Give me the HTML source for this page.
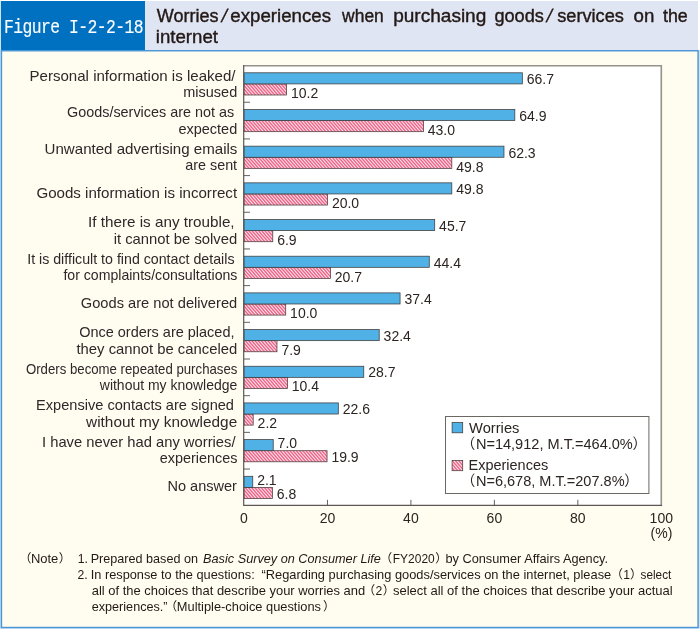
<!DOCTYPE html>
<html lang="en"><head><meta charset="utf-8"><title>Figure I-2-2-18</title>
<style>
html,body{margin:0;padding:0;background:#fff;}
body{width:700px;height:629px;position:relative;overflow:hidden;font-family:"Liberation Sans","Noto Sans CJK JP",sans-serif;color:#231815;}
.tag{position:absolute;left:0.8px;top:0.8px;width:144.6px;height:49.8px;background:#0070c0;}
.tag span{position:absolute;left:3.2px;top:17.1px;white-space:pre;color:#fff;font-family:"Liberation Mono",monospace;font-size:16.4px;line-height:20px;letter-spacing:-0.56px;transform:scaleY(1.28);transform-origin:0 50%;-webkit-text-stroke:0.12px #fff;}
.ttl{position:absolute;left:145.4px;top:0.9px;width:553.0px;height:49.4px;background:#dfe5f3;}
svg{position:absolute;left:0;top:0;}
text{font-family:"Liberation Sans","Noto Sans CJK JP",sans-serif;fill:#231815;white-space:pre;}
.w{font-size:18.7px;stroke:#231815;stroke-width:0.4px;}
.ws{font-size:18.4px;stroke:#231815;stroke-width:0.3px;}
.lab{font-size:14.8px;fill:#30272a;}
.val{font-size:14px;fill:#2c2421;}
.leg{font-size:14.3px;fill:#2c2421;}
.n{font-size:12.2px;}
.ni{font-size:12.2px;font-style:italic;}
</style></head><body>
<div class="tag"><span>Figure I-2-2-18</span></div>
<div class="ttl"></div>

<svg width="700" height="629" viewBox="0 0 700 629">
<defs><linearGradient id="hg" gradientUnits="userSpaceOnUse" x1="0" y1="0" x2="1.821" y2="-1.585" spreadMethod="repeat"><stop offset="0" stop-color="#ed6690"/><stop offset="0.1" stop-color="#ed6690"/><stop offset="0.5" stop-color="#fee8e5"/><stop offset="0.9" stop-color="#ed6690"/><stop offset="1" stop-color="#ed6690"/></linearGradient></defs>
<path d="M0.35,0.6V628.65H699.35V50" fill="none" stroke="#c3dbf1" stroke-width="0.9"/>
<rect x="1.45" y="50.75" width="696.65" height="576.75" fill="#fffdf0" stroke="#4a96d8" stroke-width="1.45"/>
<rect x="244.0" y="65.8" width="417.3" height="439.5" fill="#fff"/>
<path d="M243.4,65.8 H661.3 V505.3" fill="none" stroke="#96918a" stroke-width="1.6"/>
<rect x="445.5" y="416.5" width="203.4" height="77" fill="#fff" stroke="#6b6763" stroke-width="1"/>
<rect x="244.0" y="83.90" width="42.56" height="11.1" fill="url(#hg)" stroke="#4a3a3c" stroke-width="0.75"/>
<rect x="244.0" y="72.80" width="278.34" height="11.1" fill="#4fb1e6" stroke="#3e3a39" stroke-width="0.75"/>
<rect x="244.0" y="120.58" width="179.44" height="11.1" fill="url(#hg)" stroke="#4a3a3c" stroke-width="0.75"/>
<rect x="244.0" y="109.48" width="270.83" height="11.1" fill="#4fb1e6" stroke="#3e3a39" stroke-width="0.75"/>
<rect x="244.0" y="157.26" width="207.82" height="11.1" fill="url(#hg)" stroke="#4a3a3c" stroke-width="0.75"/>
<rect x="244.0" y="146.16" width="259.98" height="11.1" fill="#4fb1e6" stroke="#3e3a39" stroke-width="0.75"/>
<rect x="244.0" y="193.94" width="83.46" height="11.1" fill="url(#hg)" stroke="#4a3a3c" stroke-width="0.75"/>
<rect x="244.0" y="182.84" width="207.82" height="11.1" fill="#4fb1e6" stroke="#3e3a39" stroke-width="0.75"/>
<rect x="244.0" y="230.62" width="28.79" height="11.1" fill="url(#hg)" stroke="#4a3a3c" stroke-width="0.75"/>
<rect x="244.0" y="219.52" width="190.71" height="11.1" fill="#4fb1e6" stroke="#3e3a39" stroke-width="0.75"/>
<rect x="244.0" y="267.30" width="86.38" height="11.1" fill="url(#hg)" stroke="#4a3a3c" stroke-width="0.75"/>
<rect x="244.0" y="256.20" width="185.28" height="11.1" fill="#4fb1e6" stroke="#3e3a39" stroke-width="0.75"/>
<rect x="244.0" y="303.98" width="41.73" height="11.1" fill="url(#hg)" stroke="#4a3a3c" stroke-width="0.75"/>
<rect x="244.0" y="292.88" width="156.07" height="11.1" fill="#4fb1e6" stroke="#3e3a39" stroke-width="0.75"/>
<rect x="244.0" y="340.66" width="32.97" height="11.1" fill="url(#hg)" stroke="#4a3a3c" stroke-width="0.75"/>
<rect x="244.0" y="329.56" width="135.21" height="11.1" fill="#4fb1e6" stroke="#3e3a39" stroke-width="0.75"/>
<rect x="244.0" y="377.34" width="43.40" height="11.1" fill="url(#hg)" stroke="#4a3a3c" stroke-width="0.75"/>
<rect x="244.0" y="366.24" width="119.77" height="11.1" fill="#4fb1e6" stroke="#3e3a39" stroke-width="0.75"/>
<rect x="244.0" y="414.02" width="9.18" height="11.1" fill="url(#hg)" stroke="#4a3a3c" stroke-width="0.75"/>
<rect x="244.0" y="402.92" width="94.31" height="11.1" fill="#4fb1e6" stroke="#3e3a39" stroke-width="0.75"/>
<rect x="244.0" y="450.70" width="83.04" height="11.1" fill="url(#hg)" stroke="#4a3a3c" stroke-width="0.75"/>
<rect x="244.0" y="439.60" width="29.21" height="11.1" fill="#4fb1e6" stroke="#3e3a39" stroke-width="0.75"/>
<rect x="244.0" y="487.38" width="28.38" height="11.1" fill="url(#hg)" stroke="#4a3a3c" stroke-width="0.75"/>
<rect x="244.0" y="476.28" width="8.76" height="11.1" fill="#4fb1e6" stroke="#3e3a39" stroke-width="0.75"/>
<path d="M243.7,65.0 V505.3 H662.0999999999999" fill="none" stroke="#5c5755" stroke-width="1.2"/>
<path d="M244.0,102.24h6 M244.0,138.92h6 M244.0,175.60h6 M244.0,212.28h6 M244.0,248.96h6 M244.0,285.64h6 M244.0,322.32h6 M244.0,359.00h6 M244.0,395.68h6 M244.0,432.36h6 M244.0,469.04h6 M327.46,505.3v-5.5 M410.92,505.3v-5.5 M494.38,505.3v-5.5 M577.84,505.3v-5.5" fill="none" stroke="#55504c" stroke-width="0.9"/>
<rect x="452.1" y="422.6" width="10.6" height="10.2" fill="#4fb1e6" stroke="#3e3a39" stroke-width="0.75"/>
<rect x="452.1" y="460.5" width="10.6" height="10.2" fill="url(#hg)" stroke="#4a3a3c" stroke-width="0.75"/>
<text class="w" x="156.8" y="22.0" textLength="61.7" lengthAdjust="spacingAndGlyphs">Worries</text>
<text class="ws" transform="translate(220.6,22.0) skewX(-13)" x="0" y="0">/</text>
<text class="w" x="230.3" y="22.0" textLength="100.7" lengthAdjust="spacingAndGlyphs">experiences</text>
<text class="w" x="342.1" y="22.0" textLength="41.7" lengthAdjust="spacingAndGlyphs">when</text>
<text class="w" x="393.2" y="22.0" textLength="93.1" lengthAdjust="spacingAndGlyphs">purchasing</text>
<text class="w" x="494.4" y="22.0" textLength="49.5" lengthAdjust="spacingAndGlyphs">goods</text>
<text class="ws" transform="translate(545.4,22.0) skewX(-13)" x="0" y="0">/</text>
<text class="w" x="557.2" y="22.0" textLength="66.7" lengthAdjust="spacingAndGlyphs">services</text>
<text class="w" x="633.6" y="22.0" textLength="20.8" lengthAdjust="spacingAndGlyphs">on</text>
<text class="w" x="663.0" y="22.0" textLength="24.8" lengthAdjust="spacingAndGlyphs">the</text>
<text class="w" x="155.8" y="42.9" textLength="62.2" lengthAdjust="spacingAndGlyphs">internet</text>
<text class="lab" x="29.5" y="80.7" textLength="206.0" lengthAdjust="spacingAndGlyphs">Personal information is leaked/</text>
<text class="val" x="526.7" y="84.4">66.7</text>
<text class="lab" x="183.3" y="97.1" textLength="53.9" lengthAdjust="spacingAndGlyphs">misused</text>
<text class="val" x="291.0" y="98.4">10.2</text>
<text class="lab" x="67.0" y="117.3" textLength="167.2" lengthAdjust="spacingAndGlyphs">Goods/services are not as</text>
<text class="val" x="519.2" y="121.0">64.9</text>
<text class="lab" x="178.4" y="133.7" textLength="58.8" lengthAdjust="spacingAndGlyphs">expected</text>
<text class="val" x="427.8" y="135.0">43.0</text>
<text class="lab" x="44.6" y="154.0" textLength="192.8" lengthAdjust="spacingAndGlyphs">Unwanted advertising emails</text>
<text class="val" x="508.4" y="157.7">62.3</text>
<text class="lab" x="185.3" y="170.4" textLength="51.8" lengthAdjust="spacingAndGlyphs">are sent</text>
<text class="val" x="456.2" y="171.7">49.8</text>
<text class="lab" x="36.4" y="197.7" textLength="200.7" lengthAdjust="spacingAndGlyphs">Goods information is incorrect</text>
<text class="val" x="456.2" y="194.3">49.8</text>
<text class="val" x="331.9" y="208.3">20.0</text>
<text class="lab" x="88.0" y="227.2" textLength="146.6" lengthAdjust="spacingAndGlyphs">If there is any trouble,</text>
<text class="val" x="439.1" y="230.9">45.7</text>
<text class="lab" x="113.7" y="243.6" textLength="123.5" lengthAdjust="spacingAndGlyphs">it cannot be solved</text>
<text class="val" x="277.2" y="244.9">6.9</text>
<text class="lab" x="27.2" y="263.8" textLength="207.3" lengthAdjust="spacingAndGlyphs">It is difficult to find contact details</text>
<text class="val" x="433.7" y="267.5">44.4</text>
<text class="lab" x="63.4" y="280.2" textLength="174.0" lengthAdjust="spacingAndGlyphs">for complaints/consultations</text>
<text class="val" x="334.8" y="281.5">20.7</text>
<text class="val" x="404.5" y="304.2">37.4</text>
<text class="lab" x="80.8" y="307.6" textLength="156.4" lengthAdjust="spacingAndGlyphs">Goods are not delivered</text>
<text class="val" x="290.1" y="318.2">10.0</text>
<text class="lab" x="79.2" y="337.1" textLength="155.3" lengthAdjust="spacingAndGlyphs">Once orders are placed,</text>
<text class="val" x="383.6" y="340.8">32.4</text>
<text class="lab" x="76.5" y="353.5" textLength="160.7" lengthAdjust="spacingAndGlyphs">they cannot be canceled</text>
<text class="val" x="281.4" y="354.8">7.9</text>
<text class="lab" x="25.9" y="373.7" textLength="211.5" lengthAdjust="spacingAndGlyphs">Orders become repeated purchases</text>
<text class="val" x="368.2" y="377.4">28.7</text>
<text class="lab" x="99.8" y="390.1" textLength="137.4" lengthAdjust="spacingAndGlyphs">without my knowledge</text>
<text class="val" x="291.8" y="391.4">10.4</text>
<text class="lab" x="36.1" y="410.3" textLength="197.9" lengthAdjust="spacingAndGlyphs">Expensive contacts are signed</text>
<text class="val" x="342.7" y="414.0">22.6</text>
<text class="lab" x="86.1" y="426.7" textLength="151.1" lengthAdjust="spacingAndGlyphs">without my knowledge</text>
<text class="val" x="257.6" y="428.0">2.2</text>
<text class="leg" x="469.1" y="432.6" textLength="50.3" lengthAdjust="spacingAndGlyphs">Worries</text>
<text class="lab" x="42.0" y="447.0" textLength="193.5" lengthAdjust="spacingAndGlyphs">I have never had any worries/</text>
<text class="val" x="277.6" y="448.4">7.0</text>
<text class="leg" x="461.0" y="448.6">（</text>
<text class="leg" x="475.9" y="448.6" textLength="156.9" lengthAdjust="spacingAndGlyphs">N=14,912, M.T.=464.0%</text>
<text class="leg" x="632.6" y="448.6">）</text>
<text class="val" x="331.4" y="462.0">19.9</text>
<text class="lab" x="159.7" y="463.4" textLength="77.7" lengthAdjust="spacingAndGlyphs">experiences</text>
<text class="leg" x="468.5" y="470.3" textLength="79.7" lengthAdjust="spacingAndGlyphs">Experiences</text>
<text class="val" x="257.2" y="485.0">2.1</text>
<text class="leg" x="461.0" y="486.3">（</text>
<text class="leg" x="475.9" y="486.3" textLength="148.7" lengthAdjust="spacingAndGlyphs">N=6,678, M.T.=207.8%</text>
<text class="leg" x="624.3" y="486.3">）</text>
<text class="lab" x="167.5" y="490.7" textLength="69.4" lengthAdjust="spacingAndGlyphs">No answer</text>
<text class="val" x="276.8" y="498.6">6.8</text>
<text class="val" x="244.0" y="523.0" text-anchor="middle">0</text>
<text class="val" x="327.5" y="523.0" text-anchor="middle">20</text>
<text class="val" x="410.9" y="523.0" text-anchor="middle">40</text>
<text class="val" x="494.4" y="523.0" text-anchor="middle">60</text>
<text class="val" x="577.8" y="523.0" text-anchor="middle">80</text>
<text class="val" x="661.3" y="523.0" text-anchor="middle">100</text>
<text class="val" x="661.5" y="538.0" text-anchor="middle">(%)</text>
<text class="n" x="19.3" y="562.7">（</text>
<text class="n" x="30.9" y="562.7" textLength="27.4" lengthAdjust="spacingAndGlyphs">Note</text>
<text class="n" x="58.7" y="562.7">）</text>
<text class="n" x="77.8" y="562.7">1.</text>
<text class="n" x="90.7" y="562.7" textLength="107.3" lengthAdjust="spacingAndGlyphs">Prepared based on</text>
<text class="ni" x="203.1" y="562.7" textLength="177.8" lengthAdjust="spacingAndGlyphs">Basic Survey on Consumer Life</text>
<text class="n" x="379.9" y="562.7">（</text>
<text class="n" x="392.8" y="562.7" textLength="41.9" lengthAdjust="spacingAndGlyphs">FY2020</text>
<text class="n" x="435.3" y="562.7">）</text>
<text class="n" x="445.4" y="562.7" textLength="162.7" lengthAdjust="spacingAndGlyphs">by Consumer Affairs Agency.</text>
<text class="n" x="77.4" y="578.9">2.</text>
<text class="n" x="90.7" y="578.9" textLength="164.0" lengthAdjust="spacingAndGlyphs">In response to the questions:</text>
<text class="n" x="261.5" y="578.9" textLength="349.7" lengthAdjust="spacingAndGlyphs">“Regarding purchasing goods/services on the internet, please</text>
<text class="n" x="610.7" y="578.9">（</text>
<text class="n" x="623.2" y="578.9">1</text>
<text class="n" x="630.0" y="578.9">）</text>
<text class="n" x="640.6" y="578.9" textLength="30.7" lengthAdjust="spacingAndGlyphs">select</text>
<text class="n" x="91.7" y="595.1" textLength="273.5" lengthAdjust="spacingAndGlyphs">all of the choices that describe your worries and</text>
<text class="n" x="362.9" y="595.1">（</text>
<text class="n" x="375.6" y="595.1">2</text>
<text class="n" x="382.7" y="595.1">）</text>
<text class="n" x="392.9" y="595.1" textLength="279.8" lengthAdjust="spacingAndGlyphs">select all of the choices that describe your actual</text>
<text class="n" x="91.7" y="611.4" textLength="75.9" lengthAdjust="spacingAndGlyphs">experiences.”</text>
<text class="n" x="165.0" y="611.4">（</text>
<text class="n" x="176.8" y="611.4" textLength="144.2" lengthAdjust="spacingAndGlyphs">Multiple-choice questions</text>
<text class="n" x="323.0" y="611.4">）</text>
</svg>
</body></html>
